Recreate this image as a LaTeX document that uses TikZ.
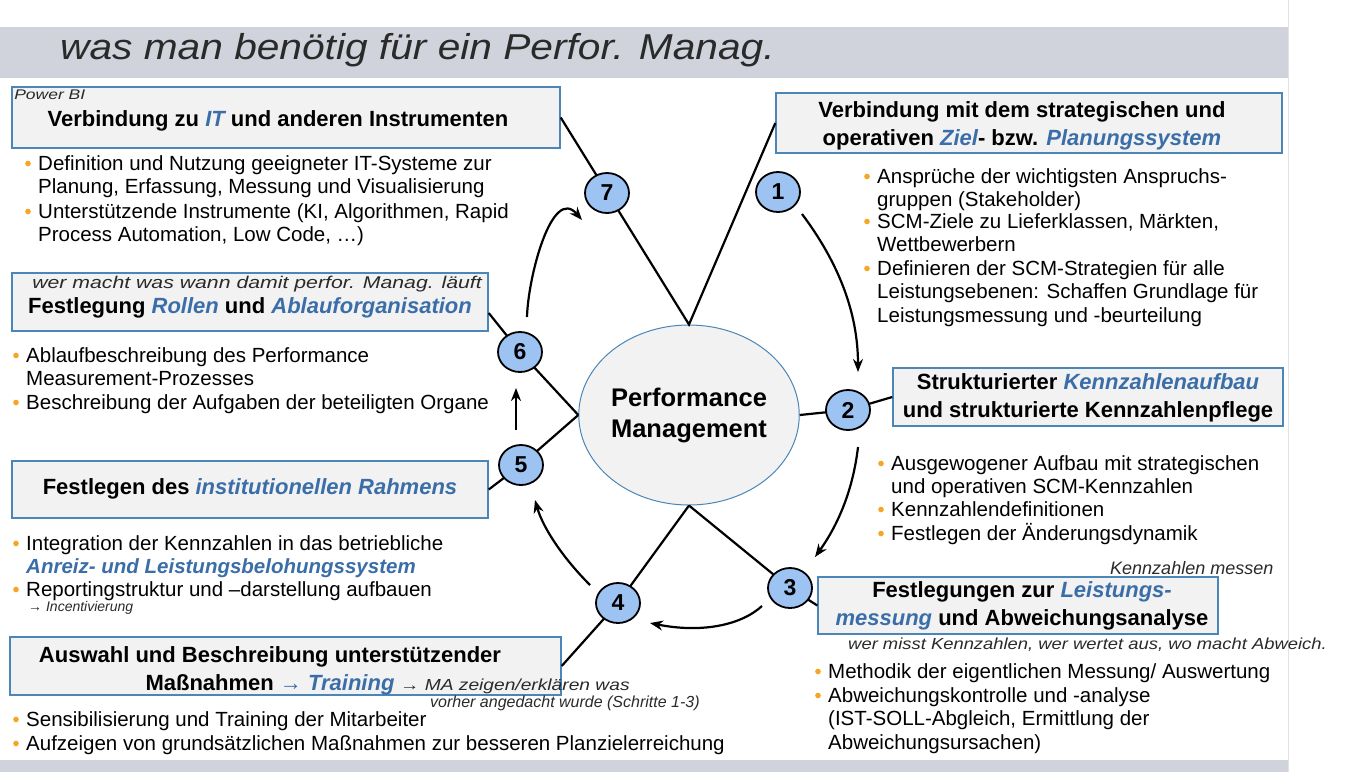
\documentclass[tikz,border=0pt]{standalone}
\usepackage{fontspec}
\setmainfont{Liberation Sans}
\usetikzlibrary{arrows.meta,shapes.geometric,calc}
\definecolor{boxblue}{HTML}{4A86B8}
\definecolor{boxfill}{HTML}{F2F2F2}
\definecolor{ital}{HTML}{3B6EA8}
\definecolor{circfill}{HTML}{9DC3F2}
\definecolor{bandgray}{HTML}{D0D3DB}
\definecolor{dotorange}{HTML}{F5A623}
\definecolor{handink}{HTML}{2A2A2A}
\definecolor{edgegray}{HTML}{E2E2E2}
\newcommand\bi[1]{\textcolor{ital}{\itshape #1}}
\newcommand\bul[4]{%
  \node[lst] (#1) at (#2,#3-19) {\rule{0pt}{19pt}#4};
  \fill[dotorange] (#2-10,#3-6.5) circle (2.8pt);}
\begin{document}
\begin{tikzpicture}[x=1pt,y=-1pt,
  box/.style={draw=boxblue, fill=boxfill, line width=1.4pt, inner sep=0pt},
  ttl/.style={font=\fontsize{22}{27.5}\selectfont\bfseries, align=center, inner sep=0pt},
  lst/.style={font=\fontsize{20.5}{23.7}\selectfont, align=left, anchor=north west, inner sep=0pt},
  num/.style={ellipse, draw=black, line width=1.8pt, fill=circfill, minimum width=44pt, minimum height=40pt, inner sep=0pt, font=\fontsize{23}{23}\selectfont\bfseries},
  pmshape/.style={ellipse, draw=boxblue, line width=1pt, fill=boxfill, minimum width=197pt, minimum height=180pt, inner sep=0pt, align=center, font=\fontsize{25.5}{31}\selectfont\bfseries},
  conn/.style={line width=2.2pt, black},
  arr/.style={line width=2.2pt, black, -{Stealth[length=13pt,width=10pt]}},
  hw/.style={font=\fontsize{#1}{#1}\selectfont\itshape, text=handink, inner sep=0pt, anchor=west},
]
\useasboundingbox (0,0) rectangle (1356,772);
\fill[white] (0,0) rectangle (1356,772);
% bands
\fill[bandgray] (0,27) rectangle (1288,78);
\fill[bandgray] (0,760) rectangle (1288,772);
\draw[edgegray, line width=1pt] (1288,0) -- (1288,772);
\node[hw=36, xscale=1.13] (hwtop) at (60,50) {was man benötig für ein Perfor. Manag.};

% central ellipse
\node[pmshape] (pm) at (689,415) {Performance\\Management};

% boxes
\node[box, minimum width=548pt, minimum height=61pt] (b7) at (286,117.5) {};
\node[box, minimum width=506pt, minimum height=60pt] (b1) at (1029,123) {};
\node[box, minimum width=476pt, minimum height=58pt] (b6) at (250,302) {};
\node[box, minimum width=390pt, minimum height=58pt] (b2) at (1088,397) {};
\node[box, minimum width=476pt, minimum height=57pt] (b5) at (250,489.5) {};
\node[box, minimum width=400pt, minimum height=57pt] (b3) at (1018,605.5) {};
\node[box, minimum width=551pt, minimum height=58pt] (b4) at (285.5,666) {};

% connectors
\draw[conn] (b7.east) -- (pm.north) -- (b1.west);
\draw[conn] (pm.east) -- (848,410) -- (b2.west);
\draw[conn] (pm.south) -- (790,588) -- (b3.west);
\draw[conn] (pm.south) -- (618,603) -- (b4.east);
\draw[conn] (pm.west) -- (521,465) -- (b5.east);
\draw[conn] (pm.west) -- (520,352) -- ([yshift=-11pt]b6.east);

% numbered circles
\node[num] (c1) at (778,192) {1};
\node[num] (c2) at (848,410) {2};
\node[num] (c3) at (790,588) {3};
\node[num] (c4) at (618,603) {4};
\node[num] (c5) at (521,465) {5};
\node[num] (c6) at (520,352) {6};
\node[num] (c7) at (607,193) {7};

% cycle arrows
\draw[arr] ($(c1)+(24,22)$) .. controls ($(c1)+(60,70)$) and ($(c1)+(80,120)$) .. ($(c2)+(10,-38)$);
\draw[arr] ($(c2)+(10,37)$) .. controls ($(c2)+(5,80)$) and ($(c2)+(-10,115)$) .. ($(c3)+(25,-31)$);
\draw[arr] ($(c3)+(-28,18)$) .. controls ($(c3)+(-50,38)$) and ($(c3)+(-90,45)$) .. ($(c4)+(32,20)$);
\draw[arr] ($(c4)+(-28,-18)$) .. controls ($(c4)+(-55,-45)$) and ($(c4)+(-75,-75)$) .. ($(c5)+(14,35)$);
\draw[arr] ($(c5)+(-5,-35)$) -- ($(c6)+(-4,36)$);
\draw[arr] ($(c6)+(7,-35)$) .. controls ($(c6)+(8,-75)$) and ($(c7)+(-55,-8)$) .. ($(c7)+(-25,27)$);

% titles
\node[ttl] (t7) at (278,121) {Verbindung zu \bi{IT} und anderen Instrumenten};
\node[ttl] (t1) at (1022,126) {Verbindung mit dem strategischen und\\operativen \bi{Ziel}- bzw. \bi{Planungssystem}};
\node[ttl] (t6) at (250,308) {Festlegung \bi{Rollen} und \bi{Ablauforganisation}};
\node[ttl] (t2) at (1088,398) {Strukturierter \bi{Kennzahlenaufbau}\\und strukturierte Kennzahlenpflege};
\node[ttl] (t5) at (250,489) {Festlegen des \bi{institutionellen Rahmens}};
\node[ttl] (t3) at (1022,606) {Festlegungen zur \bi{Leistungs-}\\\bi{messung} und Abweichungsanalyse};
\node[ttl] (t4) at (270,671) {Auswahl und Beschreibung unterstützender\\Maßnahmen \bi{→ Training}};

% bullet lists
\bul{l7a}{38}{170}{Definition und Nutzung geeigneter IT-Systeme zur\\Planung, Erfassung, Messung und Visualisierung}
\bul{l7b}{38}{218}{Unterstützende Instrumente (KI, Algorithmen, Rapid\\Process Automation, Low Code, …)}
\bul{l1a}{877}{183}{Ansprüche der wichtigsten Anspruchs-\\gruppen (Stakeholder)}
\bul{l1b}{877}{228}{SCM-Ziele zu Lieferklassen, Märkten,\\Wettbewerbern}
\bul{l1c}{877}{275}{Definieren der SCM-Strategien für alle\\Leistungsebenen: Schaffen Grundlage für\\Leistungsmessung und -beurteilung}
\bul{l6a}{26}{362}{Ablaufbeschreibung des Performance\\Measurement-Prozesses}
\bul{l6b}{26}{409}{Beschreibung der Aufgaben der beteiligten Organe}
\bul{l2a}{891}{470}{Ausgewogener Aufbau mit strategischen\\und operativen SCM-Kennzahlen}
\bul{l2b}{891}{516}{Kennzahlendefinitionen}
\bul{l2c}{891}{540}{Festlegen der Änderungsdynamik}
\bul{l5a}{26}{550}{Integration der Kennzahlen in das betriebliche\\{\bfseries\bi{Anreiz- und Leistungsbelohungssystem}}}
\bul{l5b}{26}{596}{Reportingstruktur und –darstellung aufbauen}
\bul{l3a}{828}{678}{Methodik der eigentlichen Messung/ Auswertung}
\bul{l3b}{828}{702}{Abweichungskontrolle und -analyse\\(IST-SOLL-Abgleich, Ermittlung der\\Abweichungsursachen)}
\bul{l4a}{26}{726}{Sensibilisierung und Training der Mitarbeiter}
\bul{l4b}{26}{750}{Aufzeigen von grundsätzlichen Maßnahmen zur besseren Planzielerreichung}

% handwritten notes
\node[hw=14, xscale=1.25] (hwpbi) at (14,95) {Power BI};
\node[hw=17, xscale=1.25] (hwwer) at (32,284) {wer macht was wann damit perfor. Manag. läuft};
\node[hw=14] (hwinc) at (28,608) {→ Incentivierung};
\node[hw=18] (hwkm) at (1110,568) {Kennzahlen messen};
\node[hw=16, xscale=1.15] (hwmisst) at (848,645) {wer misst Kennzahlen, wer wertet aus, wo macht Abweich.};
\node[hw=16, xscale=1.2] (hwma1) at (400,686) {→ MA zeigen/erklären was};
\node[hw=16] (hwma2) at (430,703) {vorher angedacht wurde (Schritte 1-3)};
\end{tikzpicture}
\end{document}
